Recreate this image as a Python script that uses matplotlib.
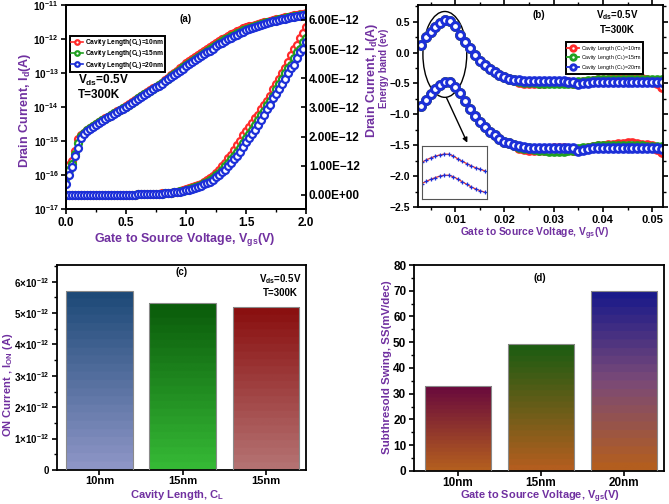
import numpy as np
import matplotlib.pyplot as plt
from matplotlib.colors import LinearSegmentedColormap
from matplotlib.patches import Ellipse
from matplotlib.ticker import FuncFormatter, MultipleLocator, LogLocator, NullLocator

plt.rcParams['font.family'] = ['Liberation Sans', 'DejaVu Sans']
plt.rcParams['font.weight'] = 'bold'
plt.rcParams['mathtext.fontset'] = 'custom'
plt.rcParams['mathtext.rm'] = 'Liberation Sans:bold'
plt.rcParams['mathtext.bf'] = 'Liberation Sans:bold'
plt.rcParams['mathtext.it'] = 'Liberation Sans:bold'
plt.rcParams['mathtext.default'] = 'regular'
plt.rcParams['axes.unicode_minus'] = True

PURPLE = '#7030A0'
cols = ['#ff2a2a', '#20a020', '#1c2fd8']
labels_a = ['Cavity Length(C$_L$)=10nm', 'Cavity Length(C$_L$)=15nm', 'Cavity Length(C$_L$)=20nm']
labels_b = ['Cavity Length (C$_L$)=10nm', 'Cavity Length (C$_L$)=15nm', 'Cavity Length (C$_L$)=20nm']

# ---- (a) transfer curves, log10(Id) read every 0.025 V ----
vgs_a = np.linspace(0, 2, 81)
logid_10 = [-15.85, -15.70, -15.60, -15.30, -14.95, -14.83, -14.75, -14.68, -14.62, -14.56,
            -14.50, -14.44, -14.38, -14.33, -14.28, -14.23, -14.18, -14.13, -14.08, -14.03,
            -13.98, -13.92, -13.86, -13.80, -13.74, -13.68, -13.62, -13.56, -13.51, -13.45,
            -13.40, -13.34, -13.28, -13.21, -13.14, -13.07, -13.00, -12.93, -12.86, -12.78,
            -12.71, -12.65, -12.59, -12.53, -12.47, -12.41, -12.35, -12.29, -12.24, -12.18,
            -12.12, -12.06, -12.01, -11.96, -11.90, -11.86, -11.81, -11.77, -11.73, -11.69,
            -11.66, -11.63, -11.61, -11.58, -11.56, -11.53, -11.51, -11.49, -11.47, -11.44,
            -11.42, -11.40, -11.38, -11.36, -11.34, -11.32, -11.30, -11.29, -11.27, -11.255,
            -11.24]
logid_15 = [-16.05, -15.85, -15.68, -15.38, -15.05, -14.86, -14.77, -14.69, -14.63, -14.57,
            -14.51, -14.45, -14.39, -14.34, -14.29, -14.24, -14.19, -14.14, -14.09, -14.04,
            -13.99, -13.93, -13.87, -13.81, -13.75, -13.69, -13.63, -13.58, -13.52, -13.47,
            -13.41, -13.36, -13.30, -13.23, -13.17, -13.10, -13.03, -12.97, -12.90, -12.83,
            -12.76, -12.70, -12.64, -12.58, -12.52, -12.46, -12.40, -12.35, -12.29, -12.23,
            -12.17, -12.12, -12.06, -12.01, -11.96, -11.91, -11.87, -11.83, -11.79, -11.75,
            -11.71, -11.68, -11.65, -11.62, -11.59, -11.56, -11.54, -11.51, -11.49, -11.47,
            -11.44, -11.42, -11.40, -11.38, -11.36, -11.35, -11.33, -11.31, -11.30, -11.28,
            -11.27]
logid_20 = [-16.25, -16.00, -15.75, -15.45, -15.20, -14.90, -14.78, -14.70, -14.64, -14.58,
            -14.52, -14.46, -14.40, -14.35, -14.30, -14.25, -14.20, -14.15, -14.10, -14.05,
            -14.00, -13.94, -13.88, -13.82, -13.76, -13.70, -13.64, -13.59, -13.53, -13.48,
            -13.42, -13.37, -13.31, -13.25, -13.19, -13.12, -13.06, -13.00, -12.93, -12.87,
            -12.80, -12.74, -12.68, -12.62, -12.56, -12.50, -12.44, -12.39, -12.34, -12.28,
            -12.22, -12.16, -12.11, -12.06, -12.01, -11.96, -11.91, -11.87, -11.83, -11.78,
            -11.74, -11.71, -11.68, -11.65, -11.62, -11.59, -11.56, -11.53, -11.51, -11.48,
            -11.46, -11.44, -11.42, -11.40, -11.38, -11.36, -11.35, -11.33, -11.31, -11.30,
            -11.28]

# ---- (b) energy band vs position ----
pos_b = np.linspace(0.003, 0.052, 50)
cb_peak = [0.13, 0.25, 0.34, 0.42, 0.48, 0.52, 0.51, 0.43, 0.29, 0.17,
           0.07, -0.04, -0.13, -0.20, -0.27, -0.32, -0.36, -0.40, -0.42, -0.44]
vb_peak = [-0.87, -0.76, -0.67, -0.59, -0.52, -0.48, -0.48, -0.55, -0.66, -0.79,
           -0.91, -1.03, -1.13, -1.21, -1.28, -1.34, -1.40, -1.44, -1.47, -1.50]
cb_tail_10 = [-0.47, -0.49, -0.50, -0.50, -0.50, -0.49, -0.48, -0.47, -0.47, -0.47,
              -0.48, -0.49, -0.49, -0.48, -0.47, -0.46, -0.45, -0.45, -0.44, -0.43,
              -0.43, -0.42, -0.42, -0.42, -0.43, -0.43, -0.44, -0.46, -0.50, -0.56]
cb_tail_15 = [-0.46, -0.47, -0.48, -0.48, -0.49, -0.49, -0.50, -0.50, -0.50, -0.50,
              -0.49, -0.49, -0.48, -0.47, -0.46, -0.46, -0.45, -0.45, -0.45, -0.44,
              -0.44, -0.44, -0.44, -0.44, -0.44, -0.44, -0.44, -0.44, -0.44, -0.45]
cb_tail_20 = [-0.45, -0.46, -0.46, -0.46, -0.46, -0.46, -0.46, -0.46, -0.46, -0.46,
              -0.47, -0.47, -0.51, -0.50, -0.49, -0.48, -0.48, -0.48, -0.47, -0.47,
              -0.47, -0.47, -0.47, -0.47, -0.47, -0.47, -0.47, -0.47, -0.47, -0.47]
vb_tail_10 = [-1.54, -1.56, -1.57, -1.58, -1.58, -1.57, -1.56, -1.55, -1.55, -1.55,
              -1.56, -1.57, -1.57, -1.56, -1.54, -1.53, -1.52, -1.51, -1.50, -1.49,
              -1.48, -1.48, -1.47, -1.47, -1.48, -1.49, -1.50, -1.52, -1.56, -1.61]
vb_tail_15 = [-1.53, -1.54, -1.55, -1.56, -1.57, -1.58, -1.59, -1.59, -1.59, -1.59,
              -1.58, -1.57, -1.56, -1.55, -1.54, -1.53, -1.52, -1.52, -1.52, -1.52,
              -1.52, -1.52, -1.52, -1.52, -1.52, -1.52, -1.53, -1.53, -1.53, -1.53]
vb_tail_20 = [-1.52, -1.53, -1.54, -1.55, -1.55, -1.55, -1.55, -1.55, -1.55, -1.55,
              -1.55, -1.55, -1.59, -1.57, -1.56, -1.55, -1.55, -1.55, -1.55, -1.55,
              -1.55, -1.55, -1.55, -1.55, -1.55, -1.55, -1.55, -1.55, -1.55, -1.56]

# ---- (c), (d) bars ----
cl_c = ['10nm', '15nm', '15nm']
ion_c = [5.71e-12, 5.33e-12, 5.18e-12]
cl_d = ['10nm', '15nm', '20nm']
ss_d = [33.0, 49.3, 70.0]

grad_c = [['#8d95c6', '#1e4a78'], ['#35b835', '#0b5c0b'], ['#b47272', '#8a1010']]
grad_d = [['#b35e1f', '#6a0b3c'], ['#b35e1f', '#1d5c12'], ['#b35e1f', '#7a4a78', '#1a1a8a']]


def style(ax):
    for s in ax.spines.values():
        s.set_linewidth(1.3)
    ax.tick_params(which='major', direction='out', length=3.5, width=1.2, labelsize=8, pad=2)
    ax.tick_params(which='minor', direction='out', length=2, width=1)


def grad_bar(ax, x, h, clist, width=0.8):
    bar = ax.bar(x, h, width, color='none', edgecolor='#8a8a8a', lw=0.8, zorder=3)[0]
    cmap = LinearSegmentedColormap.from_list('g', clist, N=22)
    img = ax.imshow(np.linspace(0, 1, 256).reshape(-1, 1), cmap=cmap, origin='lower',
                    extent=[x - width / 2, x + width / 2, 0, h], aspect='auto', zorder=2)
    img.set_clip_path(bar)


fig = plt.figure(figsize=(6.69, 5.04), dpi=100)

# (a)
ax_a = fig.add_axes([0.0987, 0.5853, 0.3587, 0.4048])
ax_a2 = ax_a.twinx()
for lg, col, lab in zip([logid_10, logid_15, logid_20], cols, labels_a):
    idv = 10 ** np.array(lg)
    ax_a.plot(vgs_a, idv, '-o', color=col, mfc='white', mec=col, ms=5, mew=1.6, lw=1.2, label=lab)
    ax_a2.plot(vgs_a, idv, '-o', color=col, mfc='white', mec=col, ms=5, mew=1.6, lw=1.2)
ax_a.set_yscale('log')
ax_a.set_xlim(0, 2)
ax_a.set_ylim(1e-17, 1e-11)
ax_a.yaxis.set_major_locator(LogLocator(base=10, numticks=10))
ax_a.yaxis.set_minor_locator(NullLocator())
ax_a.xaxis.set_major_locator(MultipleLocator(0.5))
ax_a.xaxis.set_minor_locator(MultipleLocator(0.25))
ax_a2.set_ylim(-0.48e-12, 6.51e-12)
ax_a2.set_yticks([0, 1e-12, 2e-12, 3e-12, 4e-12, 5e-12, 6e-12])
ax_a2.yaxis.set_major_formatter(FuncFormatter(lambda v, p: f'{v:.2E}'.replace('-', '\u2212')))
style(ax_a)
style(ax_a2)
ax_a2.tick_params(axis='y', direction='in', labelsize=8.5)
ax_a.tick_params(axis='x', labelsize=8.5)
ax_a.tick_params(axis='y', labelsize=7.2)
leg = ax_a.legend(loc='upper left', bbox_to_anchor=(0.018, 0.848), fontsize=4.8, handlelength=1.8,
                  borderpad=0.15, labelspacing=0.05, handletextpad=0.25, borderaxespad=0,
                  fancybox=False, framealpha=1, markerscale=0.65)
leg.get_frame().set_edgecolor('black')
leg.get_frame().set_linewidth(1.4)
ax_a.text(0.05, 0.632, 'V$_{ds}$=0.5V', transform=ax_a.transAxes, fontsize=8.5, va='center')
ax_a.text(0.05, 0.56, 'T=300K', transform=ax_a.transAxes, fontsize=8.5, va='center')
ax_a.text(0.5, 0.93, '(a)', transform=ax_a.transAxes, fontsize=7, ha='center', va='center')
fig.text(25 / 669, 1 - 110 / 504, 'Drain Current, I$_d$(A)', rotation=90, color=PURPLE,
         fontsize=9, ha='center', va='center')
fig.text(185 / 669, 1 - 240 / 504, 'Gate to Source Voltage, V$_{gs}$(V)', color=PURPLE,
         fontsize=9, ha='center', va='center')

# (b)
ax_b = fig.add_axes([0.6248, 0.5893, 0.3662, 0.4008])
cb_all = [cb_peak + cb_tail_10, cb_peak + cb_tail_15, cb_peak + cb_tail_20]
vb_all = [vb_peak + vb_tail_10, vb_peak + vb_tail_15, vb_peak + vb_tail_20]
for cb, vb, col, lab in zip(cb_all, vb_all, cols, labels_b):
    ax_b.plot(pos_b, cb, '-o', color=col, mfc='white', mec=col, ms=5.6, mew=2.1, lw=1.3, label=lab)
    ax_b.plot(pos_b, vb, '-o', color=col, mfc='white', mec=col, ms=5.6, mew=2.1, lw=1.3)
ax_b.set_xlim(0.00245, 0.0522)
ax_b.set_ylim(-2.5, 0.77)
ax_b.xaxis.set_major_locator(MultipleLocator(0.01))
ax_b.xaxis.set_minor_locator(MultipleLocator(0.005))
ax_b.yaxis.set_major_locator(MultipleLocator(0.5))
ax_b.yaxis.set_minor_locator(MultipleLocator(0.25))
style(ax_b)
ax_b.tick_params(top=True, right=True, which='both')
ax_b.tick_params(axis='y', labelsize=7.5)
ax_b.add_patch(Ellipse((0.0079, -0.03), 0.0089, 1.39, fill=False, ec='black', lw=1))
ax_b.annotate('', xy=(0.0127, -1.5), xytext=(0.0080, -0.69),
              arrowprops=dict(arrowstyle='-|>', color='black', lw=1, mutation_scale=7))
leg = ax_b.legend(loc='upper right', bbox_to_anchor=(0.93, 0.83), prop={'size': 3.8, 'weight': 'normal'},
                  handlelength=2.2, borderpad=0.3, labelspacing=0.15, handletextpad=0.3,
                  fancybox=False, framealpha=1, markerscale=0.7)
leg.get_frame().set_edgecolor('black')
leg.get_frame().set_linewidth(1.4)
ax_b.text(0.494, 0.95, '(b)', transform=ax_b.transAxes, fontsize=7, ha='center', va='center')
ax_b.text(0.812, 0.95, 'V$_{ds}$=0.5V', transform=ax_b.transAxes, fontsize=7, ha='center', va='center')
ax_b.text(0.812, 0.876, 'T=300K', transform=ax_b.transAxes, fontsize=7, ha='center', va='center')
fig.text(372 / 669, 1 - 80 / 504, 'Drain Current, I$_d$(A)', rotation=90, color=PURPLE,
         fontsize=9, ha='center', va='center')
fig.text(384 / 669, 1 - 68 / 504, 'Energy band (ev)', rotation=90, color=PURPLE,
         fontsize=7, ha='center', va='center')
fig.text(535 / 669, 1 - 234 / 504, 'Gate to Source Voltage, V$_{gs}$(V)', color=PURPLE,
         fontsize=7.4, ha='center', va='center')

ax_in = fig.add_axes([422 / 669, 1 - 199 / 504, 65 / 669, 53 / 504])
sel = pos_b <= 0.0176
for curve in [cb_all[2], vb_all[2]]:
    ax_in.plot(pos_b[sel], np.array(curve)[sel], '-', color='#e03030', lw=0.9)
    ax_in.plot(pos_b[sel], np.array(curve)[sel], '+', color='#1c2fd8', ms=3, mew=0.9)
ax_in.set_xlim(0.003, 0.0175)
ax_in.set_ylim(-1.6, 0.9)
ax_in.set_xticks([])
ax_in.set_yticks([])
for s in ax_in.spines.values():
    s.set_color('#555555')
    s.set_linewidth(0.8)

# (c)
ax_c = fig.add_axes([0.0852, 0.0675, 0.3722, 0.4067])
for i, (h, g) in enumerate(zip(ion_c, grad_c)):
    grad_bar(ax_c, i, h, g)
ax_c.set_xlim(-0.51, 2.48)
ax_c.set_ylim(0, 6.53e-12)
ax_c.set_xticks(range(len(cl_c)))
ax_c.set_xticklabels(cl_c)
ax_c.set_yticks([0, 1e-12, 2e-12, 3e-12, 4e-12, 5e-12, 6e-12])
ax_c.yaxis.set_minor_locator(MultipleLocator(0.5e-12))
ax_c.yaxis.set_major_formatter(FuncFormatter(
    lambda v, p: '0' if v == 0 else r'$%d{\times}10^{-12}$' % round(v / 1e-12)))
style(ax_c)
ax_c.tick_params(axis='y', labelsize=7)
ax_c.tick_params(axis='x', labelsize=8, pad=1)
ax_c.text(0.502, 0.966, '(c)', transform=ax_c.transAxes, fontsize=7, ha='center', va='center')
ax_c.text(0.896, 0.93, 'V$_{ds}$=0.5V', transform=ax_c.transAxes, fontsize=7, ha='center', va='center')
ax_c.text(0.896, 0.863, 'T=300K', transform=ax_c.transAxes, fontsize=7, ha='center', va='center')
fig.text(8 / 669, 1 - 385 / 504, 'ON Current , I$_{ON}$ (A)', rotation=90, color=PURPLE,
         fontsize=8, ha='center', va='center')
fig.text(177 / 669, 1 - 495 / 504, 'Cavity Length, C$_L$', color=PURPLE,
         fontsize=8, ha='center', va='center')

# (d)
ax_d = fig.add_axes([0.6188, 0.0655, 0.3737, 0.4087])
for i, (h, g) in enumerate(zip(ss_d, grad_d)):
    grad_bar(ax_d, i, h, g)
ax_d.set_xlim(-0.53, 2.48)
ax_d.set_ylim(0, 80)
ax_d.set_xticks(range(len(cl_d)))
ax_d.set_xticklabels(cl_d)
ax_d.yaxis.set_major_locator(MultipleLocator(10))
ax_d.yaxis.set_minor_locator(MultipleLocator(5))
style(ax_d)
ax_d.tick_params(axis='both', labelsize=8.5)
ax_d.tick_params(axis='x', pad=0.5)
ax_d.text(0.504, 0.937, '(d)', transform=ax_d.transAxes, fontsize=7, ha='center', va='center')
fig.text(387 / 669, 1 - 367 / 504, 'Subthresold Swing, SS(mV/dec)', rotation=90, color=PURPLE,
         fontsize=8.2, ha='center', va='center')
fig.text(540 / 669, 1 - 497 / 504, 'Gate to Source Voltage, V$_{gs}$(V)', color=PURPLE,
         fontsize=7.9, ha='center', va='center')

fig.savefig('out.png', dpi=100)
